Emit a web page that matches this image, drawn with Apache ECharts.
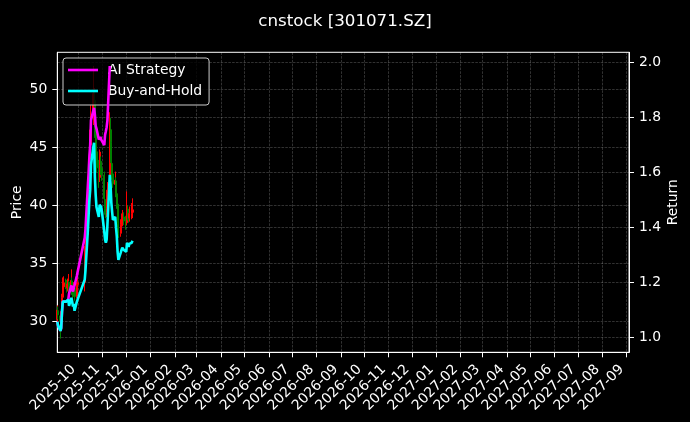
<!DOCTYPE html>
<html>
<head>
<meta charset="utf-8">
<script src="https://cdn.jsdelivr.net/npm/echarts@6/dist/echarts.min.js"></script>
<style>
html,body{margin:0;padding:0;background:#000;}
#chart{width:690px;height:422px;}
</style>
</head>
<body>
<div id="chart"></div>
<script>
const chartTitle = 'cnstock [301071.SZ]';
const axisStart = '2025-09-04';
const axisEnd = '2027-09-04';

const monthTicks = ['2025-10-01','2025-11-01','2025-12-01','2026-01-01','2026-02-01','2026-03-01',
  '2026-04-01','2026-05-01','2026-06-01','2026-07-01','2026-08-01','2026-09-01','2026-10-01',
  '2026-11-01','2026-12-01','2027-01-01','2027-02-01','2027-03-01','2027-04-01','2027-05-01',
  '2027-06-01','2027-07-01','2027-08-01','2027-09-01'];

const priceTicks = [30, 35, 40, 45, 50];
const returnTicks = [1.0, 1.2, 1.4, 1.6, 1.8, 2.0];

const dates = ['2025-09-04','2025-09-05','2025-09-08','2025-09-09','2025-09-10','2025-09-11','2025-09-12',
  '2025-09-15','2025-09-16','2025-09-17','2025-09-18','2025-09-19',
  '2025-09-22','2025-09-23','2025-09-24','2025-09-25','2025-09-26',
  '2025-09-29','2025-09-30',
  '2025-10-09','2025-10-10',
  '2025-10-13','2025-10-14','2025-10-15','2025-10-16','2025-10-17',
  '2025-10-20','2025-10-21','2025-10-22','2025-10-23','2025-10-24',
  '2025-10-27','2025-10-28','2025-10-29','2025-10-30','2025-10-31',
  '2025-11-03','2025-11-04','2025-11-05','2025-11-06','2025-11-07',
  '2025-11-10','2025-11-11','2025-11-12','2025-11-13','2025-11-14',
  '2025-11-17','2025-11-18','2025-11-19','2025-11-20','2025-11-21',
  '2025-11-24','2025-11-25','2025-11-26','2025-11-27','2025-11-28',
  '2025-12-01','2025-12-02','2025-12-03','2025-12-04','2025-12-05',
  '2025-12-08','2025-12-09'];

const open = [30.20,30.95,30.50,30.10,30.40,32.10,33.00,33.40,33.10,32.90,
  33.30,33.30,32.60,33.50,33.10,32.60,32.90,32.20,33.20,33.40,
  35.50,37.50,41.00,42.50,44.00,45.20,47.80,49.50,49.00,46.20,
  44.60,43.10,42.40,43.50,43.70,43.20,42.60,40.50,39.70,39.40,
  39.80,41.80,46.50,45.40,43.60,42.70,41.80,42.10,41.00,40.10,
  38.40,37.60,38.40,38.60,38.90,39.00,38.60,38.50,39.40,39.20,
  38.90,39.30,39.40];
const close = [31.00,30.59,30.03,30.35,32.05,33.14,33.34,33.14,33.02,33.23,
  33.34,32.70,33.55,33.14,32.61,32.90,32.17,33.14,33.34,35.48,
  36.48,40.73,42.37,43.98,45.03,47.70,49.60,50.04,46.41,44.51,
  43.22,42.16,43.45,43.66,43.22,42.69,40.58,39.73,39.41,39.73,
  41.31,46.65,45.56,43.66,42.69,41.84,42.16,40.99,40.05,38.44,
  37.59,38.35,38.65,38.88,38.97,38.65,38.44,39.41,39.20,38.97,
  39.29,39.41,39.61];
const low = [29.90,30.20,28.55,29.80,30.30,31.90,32.60,32.80,32.50,32.60,
  32.70,32.40,32.50,32.30,32.00,32.20,31.80,32.00,32.80,32.60,
  35.00,37.00,40.00,41.80,43.20,44.80,46.90,47.80,45.80,43.90,
  42.80,41.50,42.00,42.80,42.60,42.10,40.20,39.20,38.90,39.00,
  39.60,41.60,44.80,43.20,42.20,41.50,41.20,40.70,39.70,38.10,
  37.20,37.30,37.90,38.20,38.40,38.30,37.90,38.30,38.70,38.50,
  38.60,38.80,38.90];
const high = [31.40,31.30,30.80,30.90,32.40,33.80,33.90,33.70,33.60,33.70,
  34.10,33.50,34.50,33.80,33.30,33.40,33.00,33.40,33.80,35.90,
  37.20,40.90,43.80,44.80,46.50,48.60,51.00,51.98,49.80,46.80,
  45.60,43.90,44.80,44.60,44.20,43.80,42.90,40.90,40.30,40.40,
  42.00,48.00,47.50,45.90,44.00,43.00,42.90,42.40,41.20,40.40,
  38.70,38.80,39.30,39.50,39.60,39.40,39.10,41.20,40.00,39.70,
  39.90,40.20,40.60];

// AI strategy curve stops after 2025-11-10 in the reference (null = no value)
const aiStrategy = [1.058,1.044,1.025,1.036,1.094,1.131,1.138,1.131,1.127,1.134,
  1.138,1.160,1.190,1.176,1.168,1.180,1.190,1.225,1.240,1.363,
  1.395,1.550,1.600,1.660,1.700,1.790,1.825,1.835,1.810,1.770,
  1.760,1.720,1.720,1.730,1.720,1.715,1.700,1.737,1.750,1.765,
  1.790,1.987,null,null,null,null,null,null,null,null,
  null,null,null,null,null,null,null,null,null,null,
  null,null,null];
const buyHold = [1.058,1.044,1.025,1.036,1.094,1.131,1.138,1.131,1.127,1.134,
  1.138,1.116,1.145,1.131,1.113,1.123,1.098,1.131,1.138,1.211,
  1.245,1.390,1.446,1.501,1.537,1.628,1.693,1.708,1.584,1.519,
  1.475,1.439,1.483,1.490,1.475,1.457,1.385,1.356,1.345,1.356,
  1.410,1.592,1.555,1.490,1.457,1.428,1.439,1.399,1.367,1.312,
  1.283,1.309,1.319,1.327,1.330,1.319,1.312,1.345,1.338,1.330,
  1.341,1.345,1.352];

const priceRange = [27.37, 53.15];
const returnRange = [0.947, 2.037];

// calendar days of the x axis
const days = [];
for (let t = Date.parse(axisStart + 'T00:00:00Z'); t <= Date.parse(axisEnd + 'T00:00:00Z'); t += 86400000) {
  days.push(new Date(t).toISOString().slice(0, 10));
}
const dayIndex = {};
days.forEach((d, i) => { dayIndex[d] = i; });
const isMonthTick = (i, v) => monthTicks.indexOf(v) >= 0;

const candleData = dates.map((d, i) => [dayIndex[d], open[i], close[i], low[i], high[i]]);
const aiData = [];
dates.forEach((d, i) => { if (aiStrategy[i] !== null) aiData.push([dayIndex[d], aiStrategy[i]]); });
const bhData = dates.map((d, i) => [dayIndex[d], buyHold[i]]);

const FONT = 'DejaVu Sans';
const gridLine = { show: true, lineStyle: { color: 'rgba(255,255,255,0.28)', width: 0.7, type: [2.6, 1.2] } };

const chart = echarts.init(document.getElementById('chart'), null, { renderer: 'canvas' });
chart.setOption({
  backgroundColor: '#000',
  animation: false,
  textStyle: { fontFamily: FONT, color: '#fff' },
  title: {
    text: chartTitle, left: 'center', top: 8,
    textStyle: { color: '#fff', fontSize: 16.7, fontWeight: 'normal', fontFamily: FONT }
  },
  legend: {
    data: [{ name: 'AI Strategy', icon: 'rect' }, { name: 'Buy-and-Hold', icon: 'rect' }],
    orient: 'vertical', left: 63, top: 58,
    padding: [5, 7, 7, 5], itemWidth: 30, itemHeight: 2.6, itemGap: 7,
    backgroundColor: 'rgba(0,0,0,0.8)', borderColor: '#cccccc', borderWidth: 1, borderRadius: 3,
    textStyle: { color: '#fff', fontSize: 13.9, lineHeight: 14, fontFamily: FONT, padding: [0, 0, 0, 5] },
    z: 3
  },
  grid: {
    left: 57.3, right: 61, top: 52.3, bottom: 69.7,
    show: true, borderColor: '#fff', borderWidth: 1, backgroundColor: 'transparent',
    containLabel: false, outerBoundsMode: 'none'
  },
  xAxis: {
    type: 'category', data: days, boundaryGap: false,
    axisLine: { show: true, lineStyle: { color: '#fff', width: 1 } },
    axisTick: { show: true, length: 5, interval: isMonthTick, lineStyle: { color: '#fff', width: 1 } },
    axisLabel: {
      show: true, interval: isMonthTick, rotate: 45, margin: 10, padding: [0, 7, 0, 0],
      color: '#fff', fontSize: 13.9, fontFamily: FONT,
      formatter: v => v.slice(0, 7)
    },
    splitLine: Object.assign({ interval: isMonthTick }, gridLine)
  },
  yAxis: [{
    type: 'value', position: 'left', min: priceRange[0], max: priceRange[1],
    name: 'Price', nameLocation: 'middle', nameGap: 33, nameRotate: 90, nameMoveOverlap: false,
    nameTextStyle: { color: '#fff', fontSize: 13.9, fontFamily: FONT },
    axisLine: { show: true, lineStyle: { color: '#fff', width: 1 } },
    axisTick: { show: true, length: 5, customValues: priceTicks, lineStyle: { color: '#fff' } },
    axisLabel: { color: '#fff', fontSize: 13.9, margin: 10, fontFamily: FONT, customValues: priceTicks,
      formatter: v => String(v) },
    splitLine: gridLine
  }, {
    type: 'value', position: 'right', min: returnRange[0], max: returnRange[1],
    name: 'Return', nameLocation: 'middle', nameGap: 37, nameRotate: 90, nameMoveOverlap: false,
    nameTextStyle: { color: '#fff', fontSize: 13.9, fontFamily: FONT },
    axisLine: { show: true, lineStyle: { color: '#fff', width: 1 } },
    axisTick: { show: true, length: 5, customValues: returnTicks, lineStyle: { color: '#fff' } },
    axisLabel: { color: '#fff', fontSize: 13.9, margin: 10, fontFamily: FONT, customValues: returnTicks,
      formatter: v => Number(v).toFixed(1) },
    splitLine: gridLine
  }],
  series: [{
    name: 'Price', type: 'candlestick', xAxisIndex: 0, yAxisIndex: 0,
    data: candleData, encode: { x: 0, y: [1, 2, 3, 4] },
    large: false, barWidth: 1.6,
    itemStyle: { color: '#ff0000', color0: '#008000', borderColor: '#ff0000', borderColor0: '#008000', borderWidth: 1 },
    z: 2
  }, {
    name: 'AI Strategy', type: 'line', yAxisIndex: 1, data: aiData,
    symbol: 'none', showSymbol: false,
    lineStyle: { color: '#ff00ff', width: 2.6 }, itemStyle: { color: '#ff00ff' }, z: 4
  }, {
    name: 'Buy-and-Hold', type: 'line', yAxisIndex: 1, data: bhData,
    symbol: 'none', showSymbol: false,
    lineStyle: { color: '#00ffff', width: 2.6 }, itemStyle: { color: '#00ffff' }, z: 4
  }]
});
</script>
</body>
</html>
